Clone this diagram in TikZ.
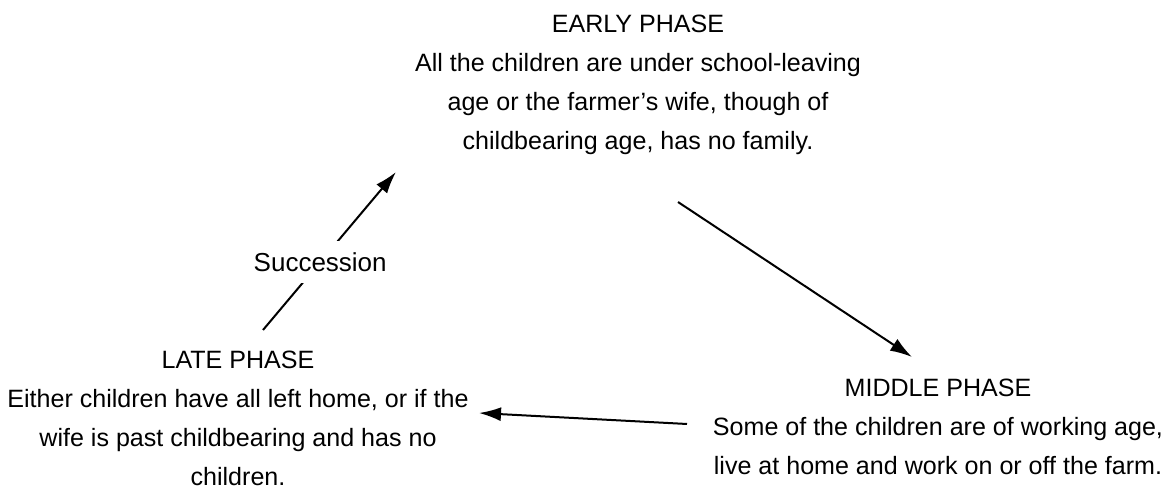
\documentclass[tikz,border=0pt]{standalone}
\usepackage{fontspec}
\setmainfont{Liberation Sans}
\usetikzlibrary{arrows.meta}
\begin{document}
\begin{tikzpicture}[x=0.75pt,y=-0.75pt,
  phase/.style={align=center,inner sep=0pt,anchor=north,
    font=\fontsize{18.8}{29.25}\selectfont},
  flow/.style={line width=1.5pt,-{Latex[length=16.5pt,width=10.5pt]}},
  lbl/.style={font=\fontsize{19.5}{22}\selectfont,fill=white,inner xsep=2pt,inner ysep=8.6pt}]
\useasboundingbox (0,0) rectangle (1172,495);

% the three phases of the farm family cycle
\node[phase] (early) at (638,15) {EARLY PHASE\\All the children are under school-leaving\\age or the farmer's wife, though of\\childbearing age, has no family.};
\node[phase] (middle) at (938,379) {MIDDLE PHASE\\Some of the children are of working age,\\live at home and work on or off the farm.};
\node[phase] (late) at (238,351) {LATE PHASE\\Either children have all left home, or if the\\wife is past childbearing and has no\\children.};

% connector end points
\coordinate (e-out) at (678,202);
\coordinate (m-in) at (912,357);
\coordinate (m-out) at (687,424);
\coordinate (l-in) at (479,413);
\coordinate (l-out) at (263,330);
\coordinate (e-in) at (396,172);

\draw[flow] (e-out) -- (m-in);
\draw[flow] (m-out) -- (l-in);
\draw[flow] (l-out) -- node[lbl,pos=0.43] (succ) {Succession} (e-in);
\end{tikzpicture}
\end{document}
